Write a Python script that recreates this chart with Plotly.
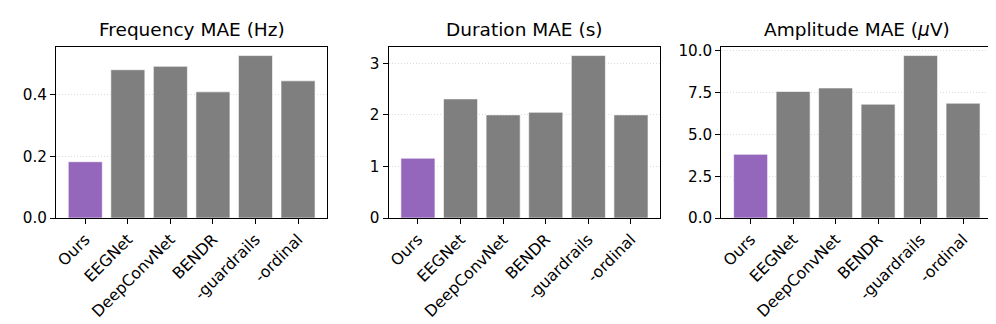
import plotly.graph_objects as go
from plotly.subplots import make_subplots

# data
methods = ['Ours', 'EEGNet', 'DeepConvNet', 'BENDR', '-guardrails', '-ordinal']
freq_mae = [0.183, 0.482, 0.493, 0.410, 0.528, 0.446]
dur_mae = [1.16, 2.31, 2.00, 2.05, 3.15, 2.00]
amp_mae = [3.81, 7.57, 7.78, 6.81, 9.72, 6.87]

titles = ['Frequency MAE (Hz)', 'Duration MAE (s)', 'Amplitude MAE (<i>μ</i>V)']
panels = [freq_mae, dur_mae, amp_mae]
dticks = [0.2, 1, 2.5]
tickfmts = ['.1f', 'd', '.1f']

PURPLE = '#9467bd'
GRAY = '#7f7f7f'
colors = [PURPLE] + [GRAY] * (len(methods) - 1)

x_domains = [(0.0462, 0.3193), (0.3808, 0.6543), (0.7156, 0.9883)]
y_domain = (0.3386, 0.8889)

fig = make_subplots(rows=1, cols=3)

for i, vals in enumerate(panels):
    fig.add_trace(go.Bar(x=methods, y=vals, width=0.8,
                         marker=dict(color=colors, line=dict(color='rgba(255,255,255,0.6)', width=1)),
                         showlegend=False), row=1, col=i + 1)

    n = str(i + 1) if i else ''
    fig.layout['xaxis' + n].update(
        domain=x_domains[i], range=[-0.69, len(methods) - 0.31],
        showline=True, mirror=True, linecolor='black', linewidth=1,
        ticks='outside', ticklen=5, tickcolor='black', tickwidth=1,
        tickangle=-45, showgrid=False, tickfont=dict(size=15.8),
    )
    fig.layout['yaxis' + n].update(
        domain=y_domain, range=[0, max(vals) * 1.05],
        showline=True, mirror=True, linecolor='black', linewidth=1,
        ticks='outside', ticklen=5, tickcolor='black', tickwidth=1,
        dtick=dticks[i], tickformat=tickfmts[i],
        showgrid=True, gridcolor='rgba(180,180,180,0.45)', griddash='1px,2px', gridwidth=1,
        zeroline=False, layer='above traces',
    )
    fig.add_annotation(text=titles[i], xref='paper', yref='paper',
                       x=sum(x_domains[i]) / 2, y=y_domain[1], xanchor='center', yanchor='bottom',
                       yshift=5, showarrow=False, font=dict(size=18.5, color='black'))

fig.update_layout(
    width=996, height=324,
    margin=dict(l=0, r=0, t=0, b=0),
    plot_bgcolor='white', paper_bgcolor='white',
    font=dict(family='DejaVu Sans', size=15.2, color='black'),
    bargap=0.2,
)

fig.write_html("out.html")
